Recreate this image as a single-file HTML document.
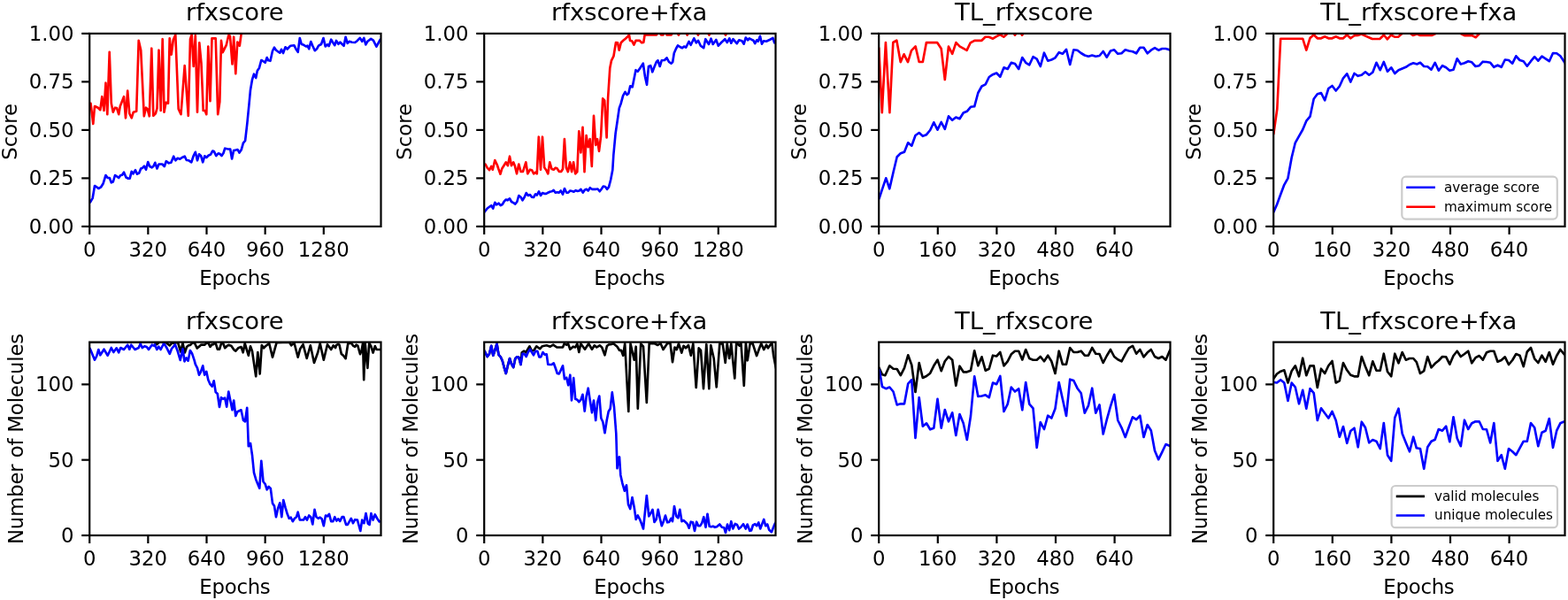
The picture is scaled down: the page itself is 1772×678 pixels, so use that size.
<!DOCTYPE html>
<html><head><meta charset="utf-8"><title>Training curves</title>
<style>html,body{margin:0;padding:0;background:#fff;}body{width:1772px;height:678px;overflow:hidden;}svg{display:block;}</style>
</head><body>
<svg width="1772" height="678" viewBox="0 0 1772 678">
<rect width="1772" height="678" fill="#fff"/>
<defs>
<clipPath id="c00"><rect x="101.2" y="37.9" width="329.3" height="218"/></clipPath>
<clipPath id="c01"><rect x="547.2" y="37.9" width="329.3" height="218"/></clipPath>
<clipPath id="c02"><rect x="993.2" y="37.9" width="329.3" height="218"/></clipPath>
<clipPath id="c03"><rect x="1439.2" y="37.9" width="329.3" height="218"/></clipPath>
<clipPath id="c10"><rect x="101.2" y="386.6" width="329.3" height="218.4"/></clipPath>
<clipPath id="c11"><rect x="547.2" y="386.6" width="329.3" height="218.4"/></clipPath>
<clipPath id="c12"><rect x="993.2" y="386.6" width="329.3" height="218.4"/></clipPath>
<clipPath id="c13"><rect x="1439.2" y="386.6" width="329.3" height="218.4"/></clipPath>
</defs>
<polyline clip-path="url(#c00)" points="101.2,229 102.5,227.7 104.7,223.8 107,210 109.2,211.3 111.3,213 114.2,211.3 116.7,207.2 119.5,198 121.7,201 123.8,201 125.8,206.3 127.8,205.5 130,198 132.5,199.7 134.2,201 136.3,198 138,197.7 140,194.7 142.5,200.5 145,201.7 146.7,201.7 148.7,193.8 150.5,196.3 153,192.2 155,196.7 157.2,195.5 159.2,190.5 161.2,189.7 163,187.7 165,191.7 167.2,183 169.2,188 171.7,189.3 173.3,188 175.3,183.8 177.5,190.5 179.5,185.5 183.3,185.5 185.8,188 187.8,182.2 190.8,184.3 193.3,183.8 196.2,176.7 198.3,181.3 200.8,178.8 203.3,179.7 205.8,178 208.7,176.7 210.8,181 213.3,181.3 216.3,183.3 218.7,176 220.8,171.8 223,181.3 225,174.3 227.2,176.3 229.2,183.3 231.3,176.3 233.3,178 235.8,175.5 238,174.7 240.3,170.5 242,171.3 244.2,176 246.7,173.3 248.3,173.8 250.5,176 252.5,173 254.2,167.7 256.7,168.3 260.2,168.6 262.1,179.4 264.1,170 266.5,169.6 268.6,169 270.5,172.6 272.7,169.3 274.9,161.7 277.1,159 279.3,139.8 281.5,117.7 283,101.7 285,90 287,83.7 289.2,88 290.8,80 293,76.7 295.3,68 297.5,69.2 299.7,70.8 301.7,65 303.3,68.3 305.5,68.8 308,57.5 310,53.7 312,56.7 314.2,58.3 316.3,59.7 318,55.8 320,60 322.5,53.3 324.7,55.5 328.3,51.7 332.5,51.3 334.7,55.8 336.7,58.8 338.8,43 340.8,50 343.3,50.8 345.8,52.5 347.5,51.7 349.2,55.3 351.3,47 353.3,51.7 355.8,57.2 358,55.3 360,51.7 363,50 365.5,43 367.7,52.5 370,50.3 371.7,52 374.2,44.7 376.2,48 378.3,51.2 380,45.9 382.4,49.8 384.4,47.7 388.6,51.8 390.6,41.8 392.7,48.9 394.7,46.8 397.7,47.7 401.2,48 403.6,46.2 406.8,42.9 409.2,46.8 411.3,43 413.3,50.4 415.4,46.8 419.2,43.9 421.9,45.6 425.4,52.7 429.6,45 430.2,44" fill="none" stroke="#0000ff" stroke-width="2.65" stroke-linejoin="round" stroke-linecap="butt"/>
<polyline clip-path="url(#c00)" points="101.2,116.7 102.5,116.7 105.3,140 107,120 110.8,121.7 113.3,124.2 115.3,109.2 117.5,125 119.5,93.7 121.3,129.2 123.7,58.8 125.8,116.7 127.8,126.7 130,121.7 132,122 134.2,129.2 135.8,120 140,109.2 142,133.3 144.2,102.5 146.3,128.3 148.7,133.3 150.8,126.7 154.2,125.8 156.7,45.8 159.2,56.7 162.8,131.3 165,121.7 166.7,123.3 168.8,131.3 171.3,54.7 173.3,130.8 175.8,128.3 177.5,122.5 179.5,56.7 181.7,125 183.7,44.2 185.5,126.7 187.5,115.8 190,116.7 191.7,43.3 193.7,61.7 195.8,45 198.3,39.2 201.7,123.3 204.5,129.2 208.7,74.2 212.8,130.8 215,44.2 216.7,39.2 218.7,75 220.8,40 223,126.7 225.3,48.3 227.5,71.7 229.7,125 231.7,125 233.3,129.2 235.3,52.5 237.5,114.2 239.5,43.3 243.7,43.3 246.2,129.2 248.3,115 250,45.8 251.7,59.2 255.8,50.8 258.3,40 260,40.8 262.5,72.5 264.2,41.7 266.3,83.3 268.3,47.5 270.8,51.7 272.5,39.2 274,36.5 431,36.5" fill="none" stroke="#ff0000" stroke-width="2.65" stroke-linejoin="round" stroke-linecap="butt"/>
<polyline clip-path="url(#c01)" points="547.2,240 548,238.8 550.7,235.5 553,233.8 555.2,232.2 557.2,235.5 559.3,228.8 561.3,231.3 563.5,229.7 565.7,232.2 567.7,231 569.7,227.7 571.8,225.5 573.8,226.3 576,224.3 578,228 580.2,229.2 582.3,230.5 584.3,228 586.3,221 588.5,222.7 590.5,226.3 592.7,222.7 594.7,218 596.8,221 599,220 601,222.7 603,223 605.2,219.3 606.8,220.5 609,216.3 611,221 613,218 615.2,218.8 617.3,218.8 619.3,217.7 621.3,216.7 623.5,216.3 625.7,215 627.7,217.7 629.8,217.2 631.8,217.7 633.8,215.5 636,219.7 638,213 640.2,217.7 642.2,217.7 644.3,215.5 646.5,216 648.5,216.7 650.7,215.2 652.7,216 654.7,215.5 656.5,213.8 658.7,217.7 660.7,214.7 662.7,213.8 664.7,215.5 666.8,212.2 669,213.8 671.3,213.8 673.5,213.8 675.5,213.5 677.7,216.3 679.8,213.5 681.8,210.5 684,211 686,213.8 688,211.3 690.2,203 692.3,192 693.3,175.5 695.6,150.8 697.9,135.3 699.8,122.1 701.8,116.7 704.1,108.2 706.5,104 708.5,107.1 710.3,105.8 712.2,97.3 714.7,98.3 718.5,79.2 720.7,80.8 723.5,76.7 726.8,71.7 729,86.7 731,95.8 733,75 735.2,74.2 737.3,81.3 739.7,75 741.8,70 743.5,68.3 745.7,75 747.7,68.3 751,68 753.5,65.3 756,70 758.5,71.7 760.2,70 761.8,60 764,55 766,51.3 768.5,53 771,54.2 773,52.5 775.2,53.7 778.5,47 780.7,50.8 784.3,43.3 786.8,48.3 789,45.8 791.8,51.7 795.2,54.2 797.3,44.2 801,50 803.5,43.7 805.7,50 809.3,45 811.8,51.7 815.2,48 819.3,44.2 821.8,48 824.3,43.3 826.3,48.7 828.5,44.2 832.7,49.2 835.2,45.3 838.5,46.3 840.7,49.7 842.7,42.5 845.2,45.3 846.8,43.3 849.3,44.7 851.5,45.8 853.2,49.2 855.2,45.3 856.8,46.7 859,40.8 861,49.7 863,46.3 866,46.7 870.2,44.7 873.5,43 875.2,48.3 876.5,46" fill="none" stroke="#0000ff" stroke-width="2.65" stroke-linejoin="round" stroke-linecap="butt"/>
<polyline clip-path="url(#c01)" points="547.2,186 548.5,185.5 550.7,189.7 553,192.2 555.2,188 556.8,191.7 559.3,181 561.8,186.3 563.5,191.3 565.5,196.7 567.3,190.5 569.7,186.7 571.8,183.3 573.8,187.2 576,176.7 578,187.2 580.2,183.3 581.8,187.2 584,196.3 586.3,185.5 588.5,193.8 591,193.8 594.3,183.3 596.3,196.3 599,191.7 601,192.2 603.2,196.3 605.2,194.7 606.8,196.3 608.8,154.7 611,191.7 613,154.7 615.2,189.3 617.3,192.2 619.3,196.3 621.3,183.3 623.5,191 625.7,191.7 627.7,189.7 629.3,190 631.8,193.8 634.3,193.8 636,191 637.9,157 639.9,189.5 641.9,194.1 644.1,183.3 646.1,194.1 648.1,183.3 650.2,196.4 652.3,194.1 654.3,148.4 656.4,172.4 658.5,143.8 660.5,194.1 662.6,153.1 664.7,166.2 666.7,157 668.8,187.9 671,130.9 673.2,163.9 675,157 677,170.9 679.1,153.9 681.2,111.3 683.2,113.6 685.6,155.4 687.1,110.5 689.3,76.7 691,68.3 693.5,63.3 696,48 698,48.3 699.7,56.7 701.8,48.3 704.3,45.8 706.8,43.7 709,41.7 711,39.5 712,45.9 714.1,46.2 716.4,50.6 718.5,45.9 722.9,45.9 725.2,48.3 727.3,47.9 728.6,39.5 742,39.4 743.5,37 745.5,37 747,39.4 749.5,39.4 750.5,37 752.5,37 753.5,39.4 758.7,39.4 760,36.5 765,36.5 766.9,39.6 768.8,36.5 775,36.5 776.7,39.6 778.5,36.5 787,36.5 788.9,39.6 790.8,36.5 799.5,36.5 801.4,39.6 803.3,36.5 818,36.5 820,39.6 822,36.5 880,36.5" fill="none" stroke="#ff0000" stroke-width="2.65" stroke-linejoin="round" stroke-linecap="butt"/>
<polyline clip-path="url(#c02)" points="993.2,225 993.7,223.8 997,213.8 1001.2,201.3 1005.3,213.3 1009.5,194.7 1013.7,177.2 1017.8,173.3 1022,171.7 1026.2,161.3 1030.3,164.7 1034.5,153 1038.7,150 1042.8,153.8 1047,152.2 1051.2,147 1055.3,138.3 1059.5,146.7 1063.7,138 1067.8,145.8 1072,131.3 1076.2,135.8 1080.3,132.5 1084.5,134.2 1088.7,127.5 1092.8,125.8 1097,120.8 1101.2,120.3 1105.3,105 1109.5,97.5 1113.7,95.3 1117.8,87 1122,84.2 1126.2,82.5 1130.3,86.7 1134.5,76.3 1138.7,78 1142.8,70.8 1147,72 1151.2,78 1155.3,65 1159.2,70.8 1163.3,73.3 1167.5,64.2 1171.7,66.7 1175.8,75 1180,59.7 1184.2,68.7 1188.3,67.5 1192.5,65.3 1196.7,59.2 1200.8,60.8 1205,55.8 1209.2,73 1213.3,56.3 1217.5,56.7 1221.7,60 1225.8,62.5 1230,63.7 1234.2,62.5 1238.3,63.7 1242.5,63 1246.7,58 1250.8,64.7 1255,57.5 1259.2,56.3 1263.3,60.8 1267.5,60.3 1271.7,56.3 1275.8,57.5 1280,58.3 1284.2,60.3 1288.3,53.7 1292.5,53.7 1296.7,60.3 1300.8,56.7 1305,54.2 1309.2,56.7 1313.3,55 1317.5,55 1321.7,56.3 1323,57" fill="none" stroke="#0000ff" stroke-width="2.65" stroke-linejoin="round" stroke-linecap="butt"/>
<polyline clip-path="url(#c02)" points="993.2,53.5 996.8,127.2 1000.9,48 1005.4,127.2 1009.3,48 1013.3,45.6 1017.7,70.1 1021.6,61.3 1026,70.1 1030,57.1 1034.6,52.4 1038.7,70 1042.8,70 1046.9,48.1 1059.1,48.1 1063.7,55 1067.8,90 1072,52.5 1076.2,60.8 1080.4,48.1 1084.5,52.4 1092.6,56.9 1096.7,48.3 1101.3,45.8 1109.4,45.8 1113.5,41.7 1117.5,41.7 1122.1,43.7 1126.2,41.2 1130.2,39.1 1134.3,41.7 1138.4,38.1 1142.5,36.5 1145,36.5 1147,39.7 1149,36.5 1153,36.5 1155.1,39.7 1157.2,36.5 1330,36.5" fill="none" stroke="#ff0000" stroke-width="2.65" stroke-linejoin="round" stroke-linecap="butt"/>
<polyline clip-path="url(#c03)" points="1439.2,240 1439.7,238.8 1443,231.3 1447.2,219.7 1451.3,208.8 1455.5,201.3 1459.7,178 1463.8,161.3 1468,153.8 1472.2,146.5 1476.3,136.7 1480.5,131.7 1484.7,111.7 1488.8,106.3 1493,105 1497.2,113.3 1501.3,100 1505.5,97 1509.7,102.5 1513.8,97.5 1518,88.3 1522.2,83.3 1526.3,92.5 1530.5,83 1534.7,85.8 1538.8,84.7 1543,81.3 1547.2,84.7 1551.3,81.7 1555.5,70.8 1559.7,79.2 1563.8,70 1568,80.8 1572.2,76.3 1576.3,83 1580.5,79.2 1584.7,77.5 1588.8,75.8 1593,73 1597.2,71.3 1601.3,72.5 1605,70.8 1609.2,75 1613.3,75.3 1617.5,78.7 1621.7,70.8 1625.8,79.7 1630,74.2 1634.2,76.3 1638.3,79.7 1642.5,78.7 1646.7,66.3 1650.8,72.5 1655,71.3 1659.2,69.2 1663.3,70.3 1667.5,75 1671.7,74.2 1675.8,69.7 1680,70 1684.2,70.8 1688.3,75.8 1692.5,73.7 1696.7,75.8 1700.8,67.5 1705,68 1709.2,71.7 1713.3,63.3 1717.5,68 1721.7,69.2 1725.8,74.7 1730,69.2 1734.2,64.2 1738.3,68.7 1742.5,63.7 1746.7,66.3 1750.8,69.2 1755,60 1759.2,60.3 1763.3,63.3 1766.7,68.3 1769,72" fill="none" stroke="#0000ff" stroke-width="2.65" stroke-linejoin="round" stroke-linecap="butt"/>
<polyline clip-path="url(#c03)" points="1439.2,152 1443.3,123.3 1447.2,43.7 1472.2,43.7 1476.3,56.7 1480.5,43 1484.7,39.2 1488.8,43.3 1493,43.3 1497.2,41.3 1501.3,43.3 1505.5,43.3 1509.7,41.3 1513.8,43.3 1518,43.3 1522.2,39.2 1526.3,43.3 1530.5,40.2 1534.5,39.9 1538.6,38.6 1550.8,44 1559.3,44 1563.9,39.5 1567.9,44.3 1572,39.5 1576,41.7 1580.1,41.7 1583.7,38.6 1587,36.5 1592,36.5 1596.8,39.9 1601.3,38.6 1605,39.9 1618,39.9 1621.2,38.6 1625,36.5 1648,36.5 1651.9,38.6 1655,40.1 1663.6,40.1 1667.7,42.2 1671.3,38.6 1675,36.5 1775,36.5" fill="none" stroke="#ff0000" stroke-width="2.65" stroke-linejoin="round" stroke-linecap="butt"/>
<polyline clip-path="url(#c10)" points="101,386.6 175,386.6 177,389.1 179.1,387.4 181,386.6 185.2,386.8 188.2,387.4 191.8,390.4 194.3,387.6 198.4,387.6 201,386.8 204.2,397.5 206.5,387.6 208.8,398.5 211.1,391.9 213.1,390.2 215.1,389.9 217.2,387.6 219.7,387.1 222.7,393.5 225.3,391.4 227.3,389.6 231.4,389.6 233.4,387.6 235.5,387.6 237.5,391.9 239.5,389.4 241,389.1 243.5,387.2 245.8,394.7 248.1,394.7 250.2,387.6 252,387.6 254.2,393.2 256.8,390.7 258.3,389.9 261.3,390.7 264.4,395.2 266.3,396.7 269.2,393.3 272.5,392 274.7,398.3 276.7,388 280.8,401.7 283,391.3 285,396.7 289.2,425.3 291.3,398 293.7,422.5 295.8,390 298,393.3 300,391.3 304.2,388 308,403.7 312.5,387.3 327,386.6 329.2,390.3 332.5,387.5 336.7,403.7 339.2,394.2 342.5,389.2 346.7,405 350.8,390.3 355,410 359.2,398.3 361.7,388 365.8,406.7 370,389.2 374.2,395 376.7,390.3 379.2,393 380,390.2 382.2,388.8 383.5,389.7 385.8,399.9 388,401.7 390.6,405.2 393.3,388 397.3,388 399,390.6 401.2,391.9 402.6,389.6 404.3,390.6 407,400.2 408.8,395.5 410.1,387.5 411.2,429.1 412.6,387.5 414.1,403 415.4,415.8 417.2,387.5 419.4,391.5 421.6,398.6 423.8,391.1 425.6,395 431,395" fill="none" stroke="#000000" stroke-width="2.65" stroke-linejoin="round" stroke-linecap="butt"/>
<polyline clip-path="url(#c10)" points="101.2,393 102.5,395.8 107,406.7 109.2,402.5 111.3,395 113.3,401.3 117.5,394.7 121.7,401.7 125.8,393 128.3,398 131.7,393.3 134.2,398.3 136.3,393 140,395 144.2,389.7 146.3,394.7 148.3,389.7 152.5,395 156.7,393 158.7,388.3 160.8,393 163.3,391.3 165.8,392 168,395 171.7,389.7 174.2,390.8 175,389.4 177.3,395 179.3,391.7 181.6,395 185.2,387.9 188.2,392.7 191.8,399.8 194,394 197.9,389.4 200.9,397.3 203.7,406.9 206.5,394.2 208.5,408.4 210.6,404.4 212.6,407.7 214.9,396 217.2,399.8 219.7,407.4 220.8,411.7 223,415.8 225,423.7 227,420 229.2,413.3 231.2,423.7 233.3,420 235.3,429.2 237.5,434.2 239.7,436.7 241.7,430.3 243.7,443 245.8,445 248,460 250,449.2 252,450.8 254.2,449.7 256.2,459.7 258.3,442.5 260.3,452.5 262.5,463.3 264.2,452.5 266.3,470 268.3,465.3 272.5,463.3 275,475 277,476.3 279.2,460.8 280.8,504.2 283,500.8 285,514.2 287,534.2 289.2,541.7 291.3,547 293.3,551.7 295.3,520.8 297.5,544.2 299.7,547 301.7,553.3 303.7,550 305.8,552 308,568.7 310,571.7 312,584.2 314.2,574.2 316.3,568.3 318.3,584.2 320.3,565 322.5,573.3 324.7,580.8 326.7,585.8 328.7,584.7 330.8,589.2 333,585.8 335,584.2 336.7,578.7 338.8,587.5 343,587.5 345,584.2 347,587.5 349.2,582.5 351.3,584.2 353.3,592.5 355.5,575.8 357.5,584.2 359.7,585.8 361.7,584.7 363.7,586.3 365.8,594.2 368,582.5 370,583.3 372,580.8 374.2,589.2 376.3,589.2 378.3,584.2 380.3,588.5 382.2,586.3 384.2,588.9 386.6,584.1 388.4,584.1 391.1,592.9 392.8,592.9 396.8,585.8 399,591.2 401.2,587.2 403.9,587.6 407.3,600 409.2,587.6 411.4,591.2 413.5,580.1 415.8,591.6 417.6,592.9 419.4,580.1 421.6,587.6 423.8,581.4 426,585.4 428.7,589.4 430.5,589" fill="none" stroke="#0000ff" stroke-width="2.65" stroke-linejoin="round" stroke-linecap="butt"/>
<polyline clip-path="url(#c11)" points="547.2,396 548,397.5 550.7,403 553,400 555.2,390.8 557.3,401.7 559.3,395.8 561.5,388.3 563.5,400.8 565.7,403.3 567.7,407.5 569.7,415 571.8,422 573.8,413.3 576,405 578,411.3 580.2,415 582.3,405.3 584.3,403.3 586.3,403.7 588.5,412 589.7,398.3 592.3,396.7 594.3,398.3 598.5,391.3 601,396.7 603.5,395.8 606.3,391.3 610.2,394.2 612.7,391.3 617.7,390.3 621.8,391.7 625.2,389.7 629.3,392.5 636,392.5 637.7,388.3 640.2,389.7 642,388.3 644.3,394.7 647.7,391.7 650.2,392.5 652.3,388.3 654.3,398 656.3,388.3 661,394.7 665.2,388.3 669,394.7 671.8,390.3 674.3,392.5 677.7,390.3 680.2,392.5 683.5,401.3 686,390.8 688.5,389.2 690,389.2 693.3,388.3 697.5,391.7 700,395.8 702,395.8 704.2,401.7 706.2,388.3 710.3,465 712.5,388.3 716.7,406.7 718.7,391.7 720.8,461.7 724.2,388.3 727,391.7 730.8,455 733.7,388 740,388.3 743.3,390 746.5,388 749.5,395 754.2,388 757.5,388 760,409.2 762.5,392.5 764.7,395 767,388.3 770.3,398.7 772.5,390.8 775,393.3 778,390 780.8,401.7 783.3,388.3 786.7,438 789.7,393.3 792,395.8 795,439.2 798.3,389.2 801.3,439.2 803.3,390 806.7,405 809.7,437.5 813.3,388.3 816.7,388.3 819.7,410 821.7,388.3 824.2,405 826.3,388.3 830.3,427.5 832.2,387 835.9,390.7 837.4,387.4 840.8,435.8 842.9,387.4 844.7,407.3 847.7,388.1 850.6,388.1 855.1,402.1 858,394 860.2,388.1 863.2,395.1 866.1,389.6 868,393.3 871.3,388.5 872.5,388.3 874.2,402.1 876.5,414 878,420" fill="none" stroke="#000000" stroke-width="2.65" stroke-linejoin="round" stroke-linecap="butt"/>
<polyline clip-path="url(#c11)" points="547.2,396 548,397.5 550.7,403 553,400 555.2,390.8 557.3,401.7 559.3,395.8 561.5,388.3 563.5,400.8 565.7,403.3 567.7,407.5 569.7,415 571.8,422 573.8,413.3 576,405 578,411.3 580.2,415 582.3,405.3 584.3,403.3 586.3,403.7 588.5,412 590.5,399.7 592.7,400 594.7,403 596.8,398 599,394.7 601,398 603,401.3 605.2,396.7 607.3,396.7 609.3,403.3 611.3,403.3 613.5,398 615.7,400.8 617.7,400.3 619.3,411.7 621.3,412 623.5,412 625.7,410.3 627.7,415.8 629.8,422 631.8,422.5 633.8,418.3 636,413.3 638,428.3 640.2,426.7 642.2,435.3 644.3,423.7 646,452.5 648.2,427 650.2,450.8 652.3,451.7 654.3,454.2 656.5,451.7 658.5,445.8 660.7,464.7 662.7,447.5 664.7,438.7 666.8,452.5 669,466.3 671,452.5 673.2,475 675.2,454.7 677.3,447.5 679.3,472.5 681.3,476.7 683.5,489.2 685.7,475 687.7,465 689.7,461.7 691.8,443.3 694,460 696.3,490 697.5,529.2 698.7,517.5 700,516.3 701.3,536.7 703.3,545.8 705.8,554.7 708,548.3 710,570 712.2,575 714.5,562 716.7,573.3 718.7,587 720.8,582.5 722.8,586.3 725,591.7 727,597.5 729.2,575.8 730.8,560 733.3,583.3 735.3,580 737.5,575.8 739.5,590 741.7,586.7 743.7,575.8 745.8,585.8 747.8,594.2 750,588.7 752,582.5 754.2,590.3 756.2,590 758.3,585.8 760,589.2 762,572 764.2,583.3 766.3,585.3 768.3,575.8 770.5,589.2 772.5,588 774.7,590 776.7,592 778.7,596.7 780.8,589.7 783,590.3 785,600 787.2,589.7 789.2,594.2 791.3,594.2 793.3,590.8 795.3,584.2 797.5,595.8 799.5,580.8 801.7,594.7 803.7,595.3 805.8,594.7 808,595.8 810,595.3 813.3,592.5 815.8,595.8 818.3,596.3 820,602 822,592.5 824.2,599.2 826.3,589.2 828.3,597.5 830.8,592 833,593 835,597.5 837.2,595.8 840,592.2 842.7,597.5 844.6,592.5 847.3,599.8 849,599.5 850.9,593.5 853.3,592.2 855.3,594.2 857.3,590.5 859.2,597.5 863.2,586.9 865.2,594.2 867.2,592.5 869.2,598.8 871.9,601.2 875.5,592.2 877,590" fill="none" stroke="#0000ff" stroke-width="2.65" stroke-linejoin="round" stroke-linecap="butt"/>
<polyline clip-path="url(#c12)" points="993.2,415 994,416.7 997,423.3 1000.3,424.2 1005.3,413.3 1009.5,416.7 1013.7,417 1017.8,424.2 1022,415.8 1026.2,401.3 1030.3,412.5 1034.5,443 1038.7,410 1042.8,427 1047,425 1051.2,421.7 1055.3,413.3 1059.5,406.7 1063.7,419.2 1067.8,408.3 1072,403 1076.2,406.7 1080.3,435.8 1084.5,413.7 1088.7,420.3 1092.8,420.3 1097,418.7 1101.2,396.3 1105.3,413.3 1109.5,403.3 1113.7,418.7 1117.8,416.7 1122,401.7 1126.2,402.5 1130.3,398 1134.5,413.3 1138.7,408.3 1142.8,400.3 1147,396.7 1151.2,396.7 1155.3,406.5 1159.2,395 1163.3,405 1167.5,406.7 1171.7,406.7 1175.8,403 1180,408.3 1184.2,401.7 1188.3,408.3 1192.5,422 1196.7,396.7 1200.8,411.7 1205,411.7 1209.2,393 1213.3,398 1217.5,398 1221.7,396.7 1225.8,401.7 1230,401.7 1234.2,393 1238.3,399.7 1242.5,400 1246.7,410 1250.8,402 1255,395 1259.2,403 1263.3,406.3 1267.5,408.3 1271.7,400.3 1275.8,393.3 1280,390.8 1284.2,399.7 1288.3,395 1292.5,403.3 1296.7,398.3 1300.8,395 1305,403 1309.2,405 1313.3,403 1317.5,406.7 1321.7,396.7 1324,393" fill="none" stroke="#000000" stroke-width="2.65" stroke-linejoin="round" stroke-linecap="butt"/>
<polyline clip-path="url(#c12)" points="993.2,417 994,419.2 997,437 1001.2,439.2 1005.3,437.5 1009.5,442.5 1013.7,457.5 1017.8,456.3 1022,456.3 1026.2,433.7 1030.3,429.2 1034.5,495 1038.7,449.2 1042.8,481.7 1047,478.3 1051.2,485.3 1055.3,483.7 1059.5,450.8 1063.7,483.7 1067.8,463 1072,476.3 1076.2,466.3 1080.3,492 1084.5,468 1088.7,478.3 1092.8,497 1097,470 1101.2,425.3 1105.3,448 1109.5,447.5 1113.7,446.3 1117.8,449.2 1122,432.5 1126.2,434.2 1130.3,425 1134.5,465 1138.7,456.7 1142.8,437.5 1147,442.5 1151.2,439.2 1155.3,463.3 1159.2,432 1163.3,456.7 1167.5,461.3 1171.7,505.8 1175.8,477 1180,485 1184.2,469.7 1188.3,472.5 1192.5,461.7 1196.7,432 1200.8,450.8 1205,470 1209.2,428.7 1213.3,430 1217.5,438.7 1221.7,444.2 1225.8,466.7 1230,458.3 1234.2,438.7 1238.3,466.7 1242.5,457.5 1246.7,490.5 1250.8,474.2 1255,459.2 1259.2,445.8 1263.3,475 1267.5,483.3 1271.7,494 1275.8,482.5 1280,471.3 1284.2,474.2 1288.3,469.7 1292.5,494 1296.7,480 1300.8,486.5 1305,509.2 1309.2,519.2 1313.3,510.8 1317.5,502 1321.7,503.7 1324,505" fill="none" stroke="#0000ff" stroke-width="2.65" stroke-linejoin="round" stroke-linecap="butt"/>
<polyline clip-path="url(#c13)" points="1439.2,428 1443,422.5 1447.2,419.7 1451.3,418.3 1455.5,432.5 1459.7,419.2 1463.8,413.3 1468,425.3 1472.2,404.7 1476.3,424.2 1480.5,413.3 1484.7,413.3 1488.8,438 1493,416.7 1497.2,422 1501.3,413.3 1505.5,408 1509.7,432.5 1513.8,430.3 1518,410 1522.2,418.3 1526.3,423.7 1530.5,425.3 1534.7,425.3 1538.8,403 1543,414.2 1547.2,424.2 1551.3,408.3 1555.5,418.7 1559.7,418.7 1563.8,399.7 1568,420 1572.2,425.3 1576.3,399.7 1580.5,410.3 1584.7,398 1588.8,406.7 1593,405 1597.2,405 1600.8,409.2 1605,422 1609.2,419.2 1613.3,403 1617.5,415.3 1621.7,410.8 1625.8,407.5 1630,403 1634.2,403.3 1638.3,411.7 1642.5,402 1646.7,396.7 1650.8,403 1655,400 1659.2,396.7 1663.3,410.3 1667.5,404.2 1671.7,402 1675.8,406.7 1680,398.3 1684.2,396.7 1688.3,396.7 1692.5,408.7 1696.7,407 1700.8,403.3 1705,412 1709.2,407 1713.3,400 1717.5,401.7 1721.7,414.2 1725.8,397.5 1730,393 1734.2,405.3 1738.3,410 1742.5,401.7 1746.7,408.7 1750.8,398 1755,411.7 1759.2,402 1763.3,395 1766.7,399.2 1770,403" fill="none" stroke="#000000" stroke-width="2.65" stroke-linejoin="round" stroke-linecap="butt"/>
<polyline clip-path="url(#c13)" points="1439.2,432 1443,432.5 1447.2,429.2 1451.3,432.5 1455.5,453 1459.7,432.5 1463.8,437.5 1468,456.3 1472.2,440.8 1476.3,461.7 1480.5,439.2 1484.7,444.2 1488.8,475 1493,461.3 1497.2,467 1501.3,472.5 1505.5,465 1509.7,475 1513.8,493.7 1518,482 1522.2,500.8 1526.3,487 1530.5,483.7 1534.7,505.3 1538.8,476.7 1543,483.3 1547.2,500.3 1551.3,497 1555.5,498.7 1559.7,507 1563.8,478 1568,514.2 1572.2,520.8 1576.3,472 1580.5,461.7 1584.7,490 1588.8,500.3 1593,510.3 1597.2,493.7 1600.8,506.3 1605,507 1609.2,529.7 1613.3,505.3 1617.5,498.7 1621.7,496.7 1625.8,485 1630,486.7 1634.2,481.7 1638.3,499.2 1642.5,471.3 1646.7,495.3 1650.8,504.2 1655,474.7 1659.2,485 1663.3,478.3 1667.5,476.3 1671.7,476.3 1675.8,485 1680,485.3 1684.2,500.3 1688.3,478 1692.5,520.8 1696.7,514.2 1700.8,529.7 1705,507 1709.2,510.3 1713.3,514.2 1717.5,506.3 1721.7,498.7 1725.8,498.7 1730,478 1734.2,483.3 1738.3,504.2 1742.5,488.7 1746.7,486.7 1750.8,473 1755,505.8 1759.2,486.7 1763.3,478.3 1766.7,476.7 1770,476" fill="none" stroke="#0000ff" stroke-width="2.65" stroke-linejoin="round" stroke-linecap="butt"/>
<g font-family="'DejaVu Sans', 'Liberation Sans', sans-serif" fill="#000">
<rect x="101.2" y="37.9" width="329.3" height="218" fill="none" stroke="#000" stroke-width="2.2" stroke-linejoin="miter"/>
<line x1="101.2" y1="255.9" x2="101.2" y2="264.9" stroke="#000" stroke-width="2.2"/>
<text x="101.2" y="290.2" font-size="22.8" text-anchor="middle">0</text>
<line x1="167.35" y1="255.9" x2="167.35" y2="264.9" stroke="#000" stroke-width="2.2"/>
<text x="167.35" y="290.2" font-size="22.8" text-anchor="middle">320</text>
<line x1="233.5" y1="255.9" x2="233.5" y2="264.9" stroke="#000" stroke-width="2.2"/>
<text x="233.5" y="290.2" font-size="22.8" text-anchor="middle">640</text>
<line x1="299.65" y1="255.9" x2="299.65" y2="264.9" stroke="#000" stroke-width="2.2"/>
<text x="299.65" y="290.2" font-size="22.8" text-anchor="middle">960</text>
<line x1="365.8" y1="255.9" x2="365.8" y2="264.9" stroke="#000" stroke-width="2.2"/>
<text x="365.8" y="290.2" font-size="22.8" text-anchor="middle">1280</text>
<line x1="92.2" y1="255.9" x2="101.2" y2="255.9" stroke="#000" stroke-width="2.2"/>
<text x="83.6" y="263.6" font-size="22.8" text-anchor="end">0.00</text>
<line x1="92.2" y1="201.4" x2="101.2" y2="201.4" stroke="#000" stroke-width="2.2"/>
<text x="83.6" y="209.1" font-size="22.8" text-anchor="end">0.25</text>
<line x1="92.2" y1="146.9" x2="101.2" y2="146.9" stroke="#000" stroke-width="2.2"/>
<text x="83.6" y="154.6" font-size="22.8" text-anchor="end">0.50</text>
<line x1="92.2" y1="92.4" x2="101.2" y2="92.4" stroke="#000" stroke-width="2.2"/>
<text x="83.6" y="100.1" font-size="22.8" text-anchor="end">0.75</text>
<line x1="92.2" y1="37.9" x2="101.2" y2="37.9" stroke="#000" stroke-width="2.2"/>
<text x="83.6" y="45.6" font-size="22.8" text-anchor="end">1.00</text>
<text x="265.55" y="321.9" font-size="22.8" text-anchor="middle" textLength="80.4">Epochs</text>
<text x="265.25" y="22.7" font-size="27.4" text-anchor="middle">rfxscore</text>
<text transform="translate(18.9,148.8) rotate(-90)" font-size="22.8" text-anchor="middle">Score</text>
<rect x="547.2" y="37.9" width="329.3" height="218" fill="none" stroke="#000" stroke-width="2.2" stroke-linejoin="miter"/>
<line x1="547.2" y1="255.9" x2="547.2" y2="264.9" stroke="#000" stroke-width="2.2"/>
<text x="547.2" y="290.2" font-size="22.8" text-anchor="middle">0</text>
<line x1="613.35" y1="255.9" x2="613.35" y2="264.9" stroke="#000" stroke-width="2.2"/>
<text x="613.35" y="290.2" font-size="22.8" text-anchor="middle">320</text>
<line x1="679.5" y1="255.9" x2="679.5" y2="264.9" stroke="#000" stroke-width="2.2"/>
<text x="679.5" y="290.2" font-size="22.8" text-anchor="middle">640</text>
<line x1="745.65" y1="255.9" x2="745.65" y2="264.9" stroke="#000" stroke-width="2.2"/>
<text x="745.65" y="290.2" font-size="22.8" text-anchor="middle">960</text>
<line x1="811.8" y1="255.9" x2="811.8" y2="264.9" stroke="#000" stroke-width="2.2"/>
<text x="811.8" y="290.2" font-size="22.8" text-anchor="middle">1280</text>
<line x1="538.2" y1="255.9" x2="547.2" y2="255.9" stroke="#000" stroke-width="2.2"/>
<text x="529.6" y="263.6" font-size="22.8" text-anchor="end">0.00</text>
<line x1="538.2" y1="201.4" x2="547.2" y2="201.4" stroke="#000" stroke-width="2.2"/>
<text x="529.6" y="209.1" font-size="22.8" text-anchor="end">0.25</text>
<line x1="538.2" y1="146.9" x2="547.2" y2="146.9" stroke="#000" stroke-width="2.2"/>
<text x="529.6" y="154.6" font-size="22.8" text-anchor="end">0.50</text>
<line x1="538.2" y1="92.4" x2="547.2" y2="92.4" stroke="#000" stroke-width="2.2"/>
<text x="529.6" y="100.1" font-size="22.8" text-anchor="end">0.75</text>
<line x1="538.2" y1="37.9" x2="547.2" y2="37.9" stroke="#000" stroke-width="2.2"/>
<text x="529.6" y="45.6" font-size="22.8" text-anchor="end">1.00</text>
<text x="711.55" y="321.9" font-size="22.8" text-anchor="middle" textLength="80.4">Epochs</text>
<text x="711.25" y="22.7" font-size="27.4" text-anchor="middle">rfxscore+fxa</text>
<text transform="translate(464.9,148.8) rotate(-90)" font-size="22.8" text-anchor="middle">Score</text>
<rect x="993.2" y="37.9" width="329.3" height="218" fill="none" stroke="#000" stroke-width="2.2" stroke-linejoin="miter"/>
<line x1="993.2" y1="255.9" x2="993.2" y2="264.9" stroke="#000" stroke-width="2.2"/>
<text x="993.2" y="290.2" font-size="22.8" text-anchor="middle">0</text>
<line x1="1059.8" y1="255.9" x2="1059.8" y2="264.9" stroke="#000" stroke-width="2.2"/>
<text x="1059.8" y="290.2" font-size="22.8" text-anchor="middle">160</text>
<line x1="1126.4" y1="255.9" x2="1126.4" y2="264.9" stroke="#000" stroke-width="2.2"/>
<text x="1126.4" y="290.2" font-size="22.8" text-anchor="middle">320</text>
<line x1="1193" y1="255.9" x2="1193" y2="264.9" stroke="#000" stroke-width="2.2"/>
<text x="1193" y="290.2" font-size="22.8" text-anchor="middle">480</text>
<line x1="1259.6" y1="255.9" x2="1259.6" y2="264.9" stroke="#000" stroke-width="2.2"/>
<text x="1259.6" y="290.2" font-size="22.8" text-anchor="middle">640</text>
<line x1="984.2" y1="255.9" x2="993.2" y2="255.9" stroke="#000" stroke-width="2.2"/>
<text x="975.6" y="263.6" font-size="22.8" text-anchor="end">0.00</text>
<line x1="984.2" y1="201.4" x2="993.2" y2="201.4" stroke="#000" stroke-width="2.2"/>
<text x="975.6" y="209.1" font-size="22.8" text-anchor="end">0.25</text>
<line x1="984.2" y1="146.9" x2="993.2" y2="146.9" stroke="#000" stroke-width="2.2"/>
<text x="975.6" y="154.6" font-size="22.8" text-anchor="end">0.50</text>
<line x1="984.2" y1="92.4" x2="993.2" y2="92.4" stroke="#000" stroke-width="2.2"/>
<text x="975.6" y="100.1" font-size="22.8" text-anchor="end">0.75</text>
<line x1="984.2" y1="37.9" x2="993.2" y2="37.9" stroke="#000" stroke-width="2.2"/>
<text x="975.6" y="45.6" font-size="22.8" text-anchor="end">1.00</text>
<text x="1157.55" y="321.9" font-size="22.8" text-anchor="middle" textLength="80.4">Epochs</text>
<text x="1157.25" y="22.7" font-size="27.4" text-anchor="middle">TL_rfxscore</text>
<text transform="translate(910.9,148.8) rotate(-90)" font-size="22.8" text-anchor="middle">Score</text>
<rect x="1439.2" y="37.9" width="329.3" height="218" fill="none" stroke="#000" stroke-width="2.2" stroke-linejoin="miter"/>
<line x1="1439.2" y1="255.9" x2="1439.2" y2="264.9" stroke="#000" stroke-width="2.2"/>
<text x="1439.2" y="290.2" font-size="22.8" text-anchor="middle">0</text>
<line x1="1505.8" y1="255.9" x2="1505.8" y2="264.9" stroke="#000" stroke-width="2.2"/>
<text x="1505.8" y="290.2" font-size="22.8" text-anchor="middle">160</text>
<line x1="1572.4" y1="255.9" x2="1572.4" y2="264.9" stroke="#000" stroke-width="2.2"/>
<text x="1572.4" y="290.2" font-size="22.8" text-anchor="middle">320</text>
<line x1="1639" y1="255.9" x2="1639" y2="264.9" stroke="#000" stroke-width="2.2"/>
<text x="1639" y="290.2" font-size="22.8" text-anchor="middle">480</text>
<line x1="1705.6" y1="255.9" x2="1705.6" y2="264.9" stroke="#000" stroke-width="2.2"/>
<text x="1705.6" y="290.2" font-size="22.8" text-anchor="middle">640</text>
<line x1="1430.2" y1="255.9" x2="1439.2" y2="255.9" stroke="#000" stroke-width="2.2"/>
<text x="1421.6" y="263.6" font-size="22.8" text-anchor="end">0.00</text>
<line x1="1430.2" y1="201.4" x2="1439.2" y2="201.4" stroke="#000" stroke-width="2.2"/>
<text x="1421.6" y="209.1" font-size="22.8" text-anchor="end">0.25</text>
<line x1="1430.2" y1="146.9" x2="1439.2" y2="146.9" stroke="#000" stroke-width="2.2"/>
<text x="1421.6" y="154.6" font-size="22.8" text-anchor="end">0.50</text>
<line x1="1430.2" y1="92.4" x2="1439.2" y2="92.4" stroke="#000" stroke-width="2.2"/>
<text x="1421.6" y="100.1" font-size="22.8" text-anchor="end">0.75</text>
<line x1="1430.2" y1="37.9" x2="1439.2" y2="37.9" stroke="#000" stroke-width="2.2"/>
<text x="1421.6" y="45.6" font-size="22.8" text-anchor="end">1.00</text>
<text x="1603.55" y="321.9" font-size="22.8" text-anchor="middle" textLength="80.4">Epochs</text>
<text x="1603.25" y="22.7" font-size="27.4" text-anchor="middle">TL_rfxscore+fxa</text>
<text transform="translate(1356.9,148.8) rotate(-90)" font-size="22.8" text-anchor="middle">Score</text>
<rect x="101.2" y="386.6" width="329.3" height="218.4" fill="none" stroke="#000" stroke-width="2.2" stroke-linejoin="miter"/>
<line x1="101.2" y1="605" x2="101.2" y2="614" stroke="#000" stroke-width="2.2"/>
<text x="101.2" y="639.3" font-size="22.8" text-anchor="middle">0</text>
<line x1="167.35" y1="605" x2="167.35" y2="614" stroke="#000" stroke-width="2.2"/>
<text x="167.35" y="639.3" font-size="22.8" text-anchor="middle">320</text>
<line x1="233.5" y1="605" x2="233.5" y2="614" stroke="#000" stroke-width="2.2"/>
<text x="233.5" y="639.3" font-size="22.8" text-anchor="middle">640</text>
<line x1="299.65" y1="605" x2="299.65" y2="614" stroke="#000" stroke-width="2.2"/>
<text x="299.65" y="639.3" font-size="22.8" text-anchor="middle">960</text>
<line x1="365.8" y1="605" x2="365.8" y2="614" stroke="#000" stroke-width="2.2"/>
<text x="365.8" y="639.3" font-size="22.8" text-anchor="middle">1280</text>
<line x1="92.2" y1="605" x2="101.2" y2="605" stroke="#000" stroke-width="2.2"/>
<text x="83.6" y="613.1" font-size="22.8" text-anchor="end">0</text>
<line x1="92.2" y1="519.69" x2="101.2" y2="519.69" stroke="#000" stroke-width="2.2"/>
<text x="83.6" y="527.79" font-size="22.8" text-anchor="end">50</text>
<line x1="92.2" y1="434.38" x2="101.2" y2="434.38" stroke="#000" stroke-width="2.2"/>
<text x="83.6" y="442.48" font-size="22.8" text-anchor="end">100</text>
<text x="265.55" y="671" font-size="22.8" text-anchor="middle" textLength="80.4">Epochs</text>
<text x="265.25" y="372.3" font-size="27.4" text-anchor="middle">rfxscore</text>
<text transform="translate(25.7,495.9) rotate(-90)" font-size="22.8" text-anchor="middle" textLength="238.3">Number of Molecules</text>
<rect x="547.2" y="386.6" width="329.3" height="218.4" fill="none" stroke="#000" stroke-width="2.2" stroke-linejoin="miter"/>
<line x1="547.2" y1="605" x2="547.2" y2="614" stroke="#000" stroke-width="2.2"/>
<text x="547.2" y="639.3" font-size="22.8" text-anchor="middle">0</text>
<line x1="613.35" y1="605" x2="613.35" y2="614" stroke="#000" stroke-width="2.2"/>
<text x="613.35" y="639.3" font-size="22.8" text-anchor="middle">320</text>
<line x1="679.5" y1="605" x2="679.5" y2="614" stroke="#000" stroke-width="2.2"/>
<text x="679.5" y="639.3" font-size="22.8" text-anchor="middle">640</text>
<line x1="745.65" y1="605" x2="745.65" y2="614" stroke="#000" stroke-width="2.2"/>
<text x="745.65" y="639.3" font-size="22.8" text-anchor="middle">960</text>
<line x1="811.8" y1="605" x2="811.8" y2="614" stroke="#000" stroke-width="2.2"/>
<text x="811.8" y="639.3" font-size="22.8" text-anchor="middle">1280</text>
<line x1="538.2" y1="605" x2="547.2" y2="605" stroke="#000" stroke-width="2.2"/>
<text x="529.6" y="613.1" font-size="22.8" text-anchor="end">0</text>
<line x1="538.2" y1="519.69" x2="547.2" y2="519.69" stroke="#000" stroke-width="2.2"/>
<text x="529.6" y="527.79" font-size="22.8" text-anchor="end">50</text>
<line x1="538.2" y1="434.38" x2="547.2" y2="434.38" stroke="#000" stroke-width="2.2"/>
<text x="529.6" y="442.48" font-size="22.8" text-anchor="end">100</text>
<text x="711.55" y="671" font-size="22.8" text-anchor="middle" textLength="80.4">Epochs</text>
<text x="711.25" y="372.3" font-size="27.4" text-anchor="middle">rfxscore+fxa</text>
<text transform="translate(471.7,495.9) rotate(-90)" font-size="22.8" text-anchor="middle" textLength="238.3">Number of Molecules</text>
<rect x="993.2" y="386.6" width="329.3" height="218.4" fill="none" stroke="#000" stroke-width="2.2" stroke-linejoin="miter"/>
<line x1="993.2" y1="605" x2="993.2" y2="614" stroke="#000" stroke-width="2.2"/>
<text x="993.2" y="639.3" font-size="22.8" text-anchor="middle">0</text>
<line x1="1059.8" y1="605" x2="1059.8" y2="614" stroke="#000" stroke-width="2.2"/>
<text x="1059.8" y="639.3" font-size="22.8" text-anchor="middle">160</text>
<line x1="1126.4" y1="605" x2="1126.4" y2="614" stroke="#000" stroke-width="2.2"/>
<text x="1126.4" y="639.3" font-size="22.8" text-anchor="middle">320</text>
<line x1="1193" y1="605" x2="1193" y2="614" stroke="#000" stroke-width="2.2"/>
<text x="1193" y="639.3" font-size="22.8" text-anchor="middle">480</text>
<line x1="1259.6" y1="605" x2="1259.6" y2="614" stroke="#000" stroke-width="2.2"/>
<text x="1259.6" y="639.3" font-size="22.8" text-anchor="middle">640</text>
<line x1="984.2" y1="605" x2="993.2" y2="605" stroke="#000" stroke-width="2.2"/>
<text x="975.6" y="613.1" font-size="22.8" text-anchor="end">0</text>
<line x1="984.2" y1="519.69" x2="993.2" y2="519.69" stroke="#000" stroke-width="2.2"/>
<text x="975.6" y="527.79" font-size="22.8" text-anchor="end">50</text>
<line x1="984.2" y1="434.38" x2="993.2" y2="434.38" stroke="#000" stroke-width="2.2"/>
<text x="975.6" y="442.48" font-size="22.8" text-anchor="end">100</text>
<text x="1157.55" y="671" font-size="22.8" text-anchor="middle" textLength="80.4">Epochs</text>
<text x="1157.25" y="372.3" font-size="27.4" text-anchor="middle">TL_rfxscore</text>
<text transform="translate(917.7,495.9) rotate(-90)" font-size="22.8" text-anchor="middle" textLength="238.3">Number of Molecules</text>
<rect x="1439.2" y="386.6" width="329.3" height="218.4" fill="none" stroke="#000" stroke-width="2.2" stroke-linejoin="miter"/>
<line x1="1439.2" y1="605" x2="1439.2" y2="614" stroke="#000" stroke-width="2.2"/>
<text x="1439.2" y="639.3" font-size="22.8" text-anchor="middle">0</text>
<line x1="1505.8" y1="605" x2="1505.8" y2="614" stroke="#000" stroke-width="2.2"/>
<text x="1505.8" y="639.3" font-size="22.8" text-anchor="middle">160</text>
<line x1="1572.4" y1="605" x2="1572.4" y2="614" stroke="#000" stroke-width="2.2"/>
<text x="1572.4" y="639.3" font-size="22.8" text-anchor="middle">320</text>
<line x1="1639" y1="605" x2="1639" y2="614" stroke="#000" stroke-width="2.2"/>
<text x="1639" y="639.3" font-size="22.8" text-anchor="middle">480</text>
<line x1="1705.6" y1="605" x2="1705.6" y2="614" stroke="#000" stroke-width="2.2"/>
<text x="1705.6" y="639.3" font-size="22.8" text-anchor="middle">640</text>
<line x1="1430.2" y1="605" x2="1439.2" y2="605" stroke="#000" stroke-width="2.2"/>
<text x="1421.6" y="613.1" font-size="22.8" text-anchor="end">0</text>
<line x1="1430.2" y1="519.69" x2="1439.2" y2="519.69" stroke="#000" stroke-width="2.2"/>
<text x="1421.6" y="527.79" font-size="22.8" text-anchor="end">50</text>
<line x1="1430.2" y1="434.38" x2="1439.2" y2="434.38" stroke="#000" stroke-width="2.2"/>
<text x="1421.6" y="442.48" font-size="22.8" text-anchor="end">100</text>
<text x="1603.55" y="671" font-size="22.8" text-anchor="middle" textLength="80.4">Epochs</text>
<text x="1603.25" y="372.3" font-size="27.4" text-anchor="middle">TL_rfxscore+fxa</text>
<text transform="translate(1363.7,495.9) rotate(-90)" font-size="22.8" text-anchor="middle" textLength="238.3">Number of Molecules</text>
</g>
<rect x="1584.3" y="199.7" width="175.5" height="47.900000000000006" rx="4.5" ry="4.5" fill="#fff" fill-opacity="0.8" stroke="#cccccc" stroke-width="2.2"/>
<line x1="1589.2" y1="211.7" x2="1621.9" y2="211.7" stroke="#0000ff" stroke-width="2.65"/>
<text x="1632" y="216.8" font-family="'DejaVu Sans', 'Liberation Sans', sans-serif" font-size="15.2">average score</text>
<line x1="1589.2" y1="233.7" x2="1621.9" y2="233.7" stroke="#ff0000" stroke-width="2.65"/>
<text x="1632" y="238.8" font-family="'DejaVu Sans', 'Liberation Sans', sans-serif" font-size="15.2">maximum score</text>
<rect x="1572.6" y="549.0" width="187.4000000000001" height="47.200000000000045" rx="4.5" ry="4.5" fill="#fff" fill-opacity="0.8" stroke="#cccccc" stroke-width="2.2"/>
<line x1="1577.7" y1="560.9" x2="1610" y2="560.9" stroke="#000000" stroke-width="2.65"/>
<text x="1621" y="565.7" font-family="'DejaVu Sans', 'Liberation Sans', sans-serif" font-size="15.2">valid molecules</text>
<line x1="1577.7" y1="582.5" x2="1610" y2="582.5" stroke="#0000ff" stroke-width="2.65"/>
<text x="1621" y="587.3" font-family="'DejaVu Sans', 'Liberation Sans', sans-serif" font-size="15.2">unique molecules</text>
</svg>
</body></html>
